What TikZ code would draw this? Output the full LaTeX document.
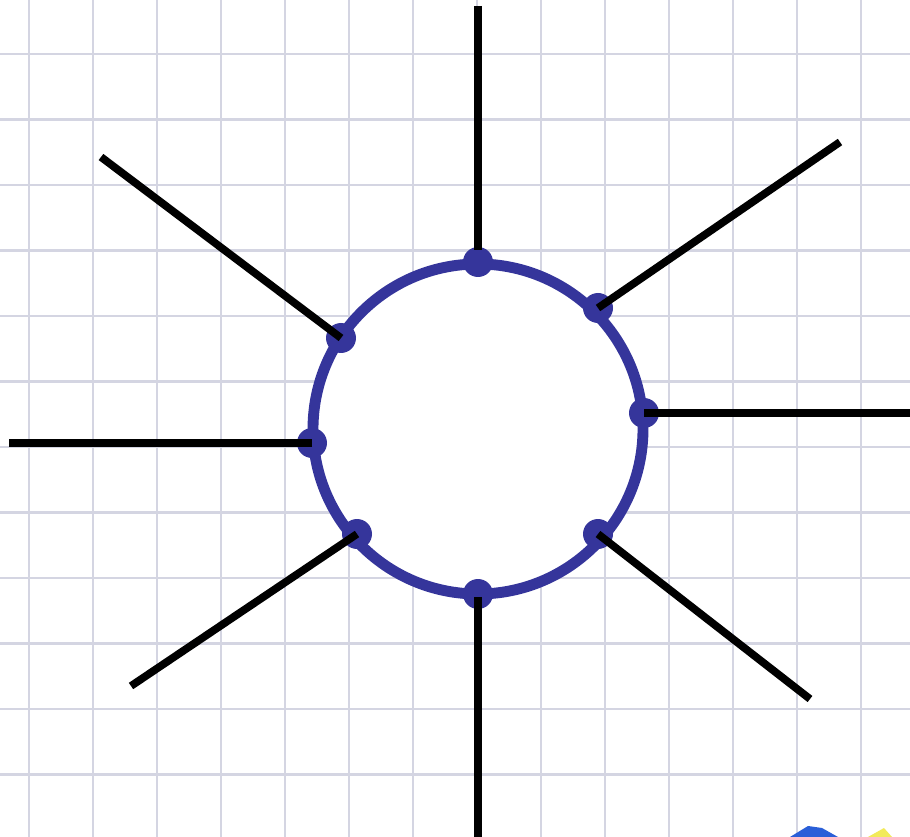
\documentclass[tikz,border=0pt]{standalone}
\usepackage{tikz}
\usetikzlibrary{calc}
\definecolor{ringblue}{HTML}{35359B}
\definecolor{gridgray}{HTML}{D4D5E2}
\definecolor{logoblue}{HTML}{2A5FD8}
\definecolor{logoyellow}{HTML}{F2EA5A}
\begin{document}
\begin{tikzpicture}[x=0.02cm,y=-0.02cm,line cap=butt,
  gridline/.style={draw=gridgray,line width=1.3pt},
  ring/.style={draw=ringblue,line width=6.2pt},
  pin/.style={circle,fill=ringblue,minimum size=0.6cm,inner sep=0pt},
  lead/.style={draw=black,line width=4.4pt}]
\path[use as bounding box] (0,0) rectangle (910,837);
\fill[white] (0,0) rectangle (910,837);
% millimetre paper
\foreach \gx in {29,93,...,861} \draw[gridline] (\gx,0) -- (\gx,837);
\foreach \gy in {54,119.5,...,780} \draw[gridline] (0,\gy) -- (910,\gy);
% ring with its pins
\fill[white] (478,429) circle [radius=165];
\draw[ring] (478,429) circle [radius=165];
\node[pin] (pT) at (478,262) {};
\node[pin] (pUR) at (598,308) {};
\node[pin] (pR) at (644,413) {};
\node[pin] (pLR) at (598,534) {};
\node[pin] (pB) at (478,594) {};
\node[pin] (pLL) at (357,534) {};
\node[pin] (pL) at (312,443) {};
\node[pin] (pUL) at (341,338) {};
% free ends of the leads
\coordinate (eT) at (478,6);
\coordinate (eUR) at (840,142);
\coordinate (eR) at (910,413);
\coordinate (eLR) at (810,699);
\coordinate (eB) at (478,837);
\coordinate (eLL) at (131,686);
\coordinate (eL) at (9,443);
\coordinate (eUL) at (101,157);
\draw[lead] (eT) -- ($(pT.center)+(0,-12)$);
\draw[lead] (pUR.center) -- (eUR);
\draw[lead] (pR.center) -- (eR);
\draw[lead] (pLR.center) -- (eLR);
\draw[lead] ($(pB.center)+(0,3)$) -- (eB);
\draw[lead] (pLL.center) -- (eLL);
\draw[lead] (pL.center) -- (eL);
\draw[lead] (pUL.center) -- (eUL);
% corner of a logo, cut off by the page edge
\fill[logoblue] (790,837) -- (808,826) -- (822,828) -- (838,837) -- cycle;
\fill[logoyellow] (868,837) -- (884,828) -- (892,837) -- cycle;
\end{tikzpicture}
\end{document}
